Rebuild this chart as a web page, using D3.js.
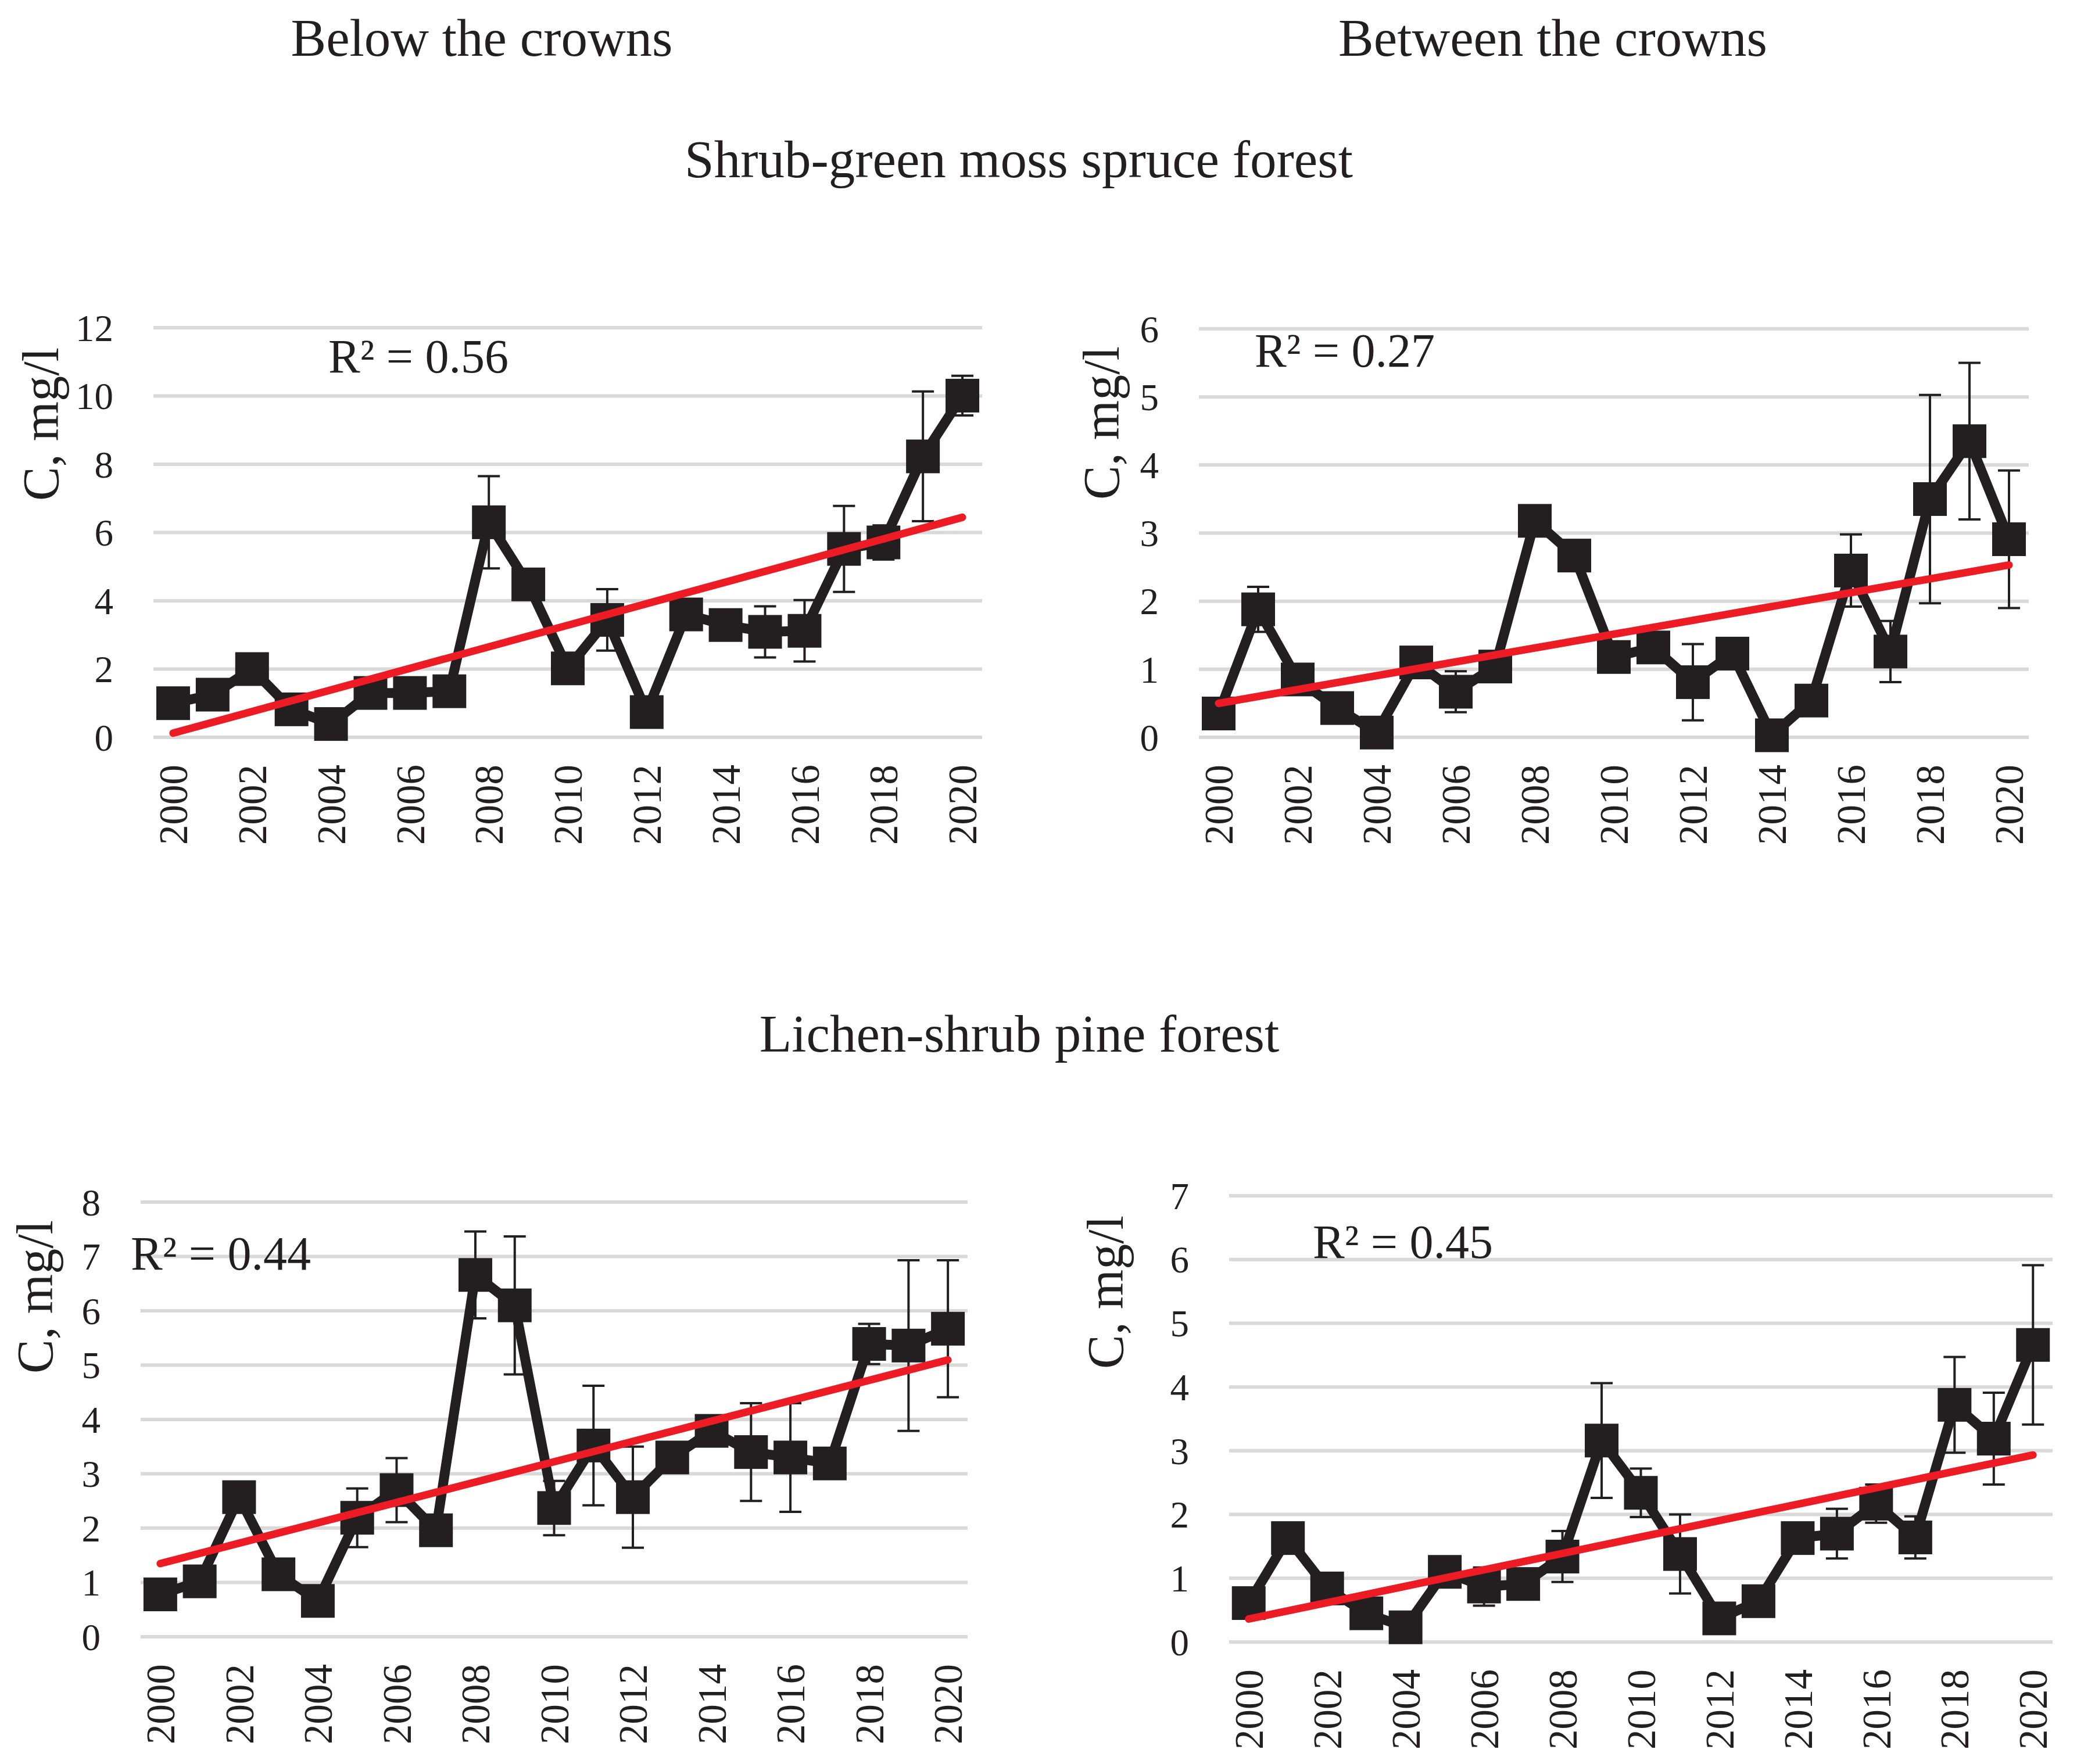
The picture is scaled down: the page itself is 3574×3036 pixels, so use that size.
<!DOCTYPE html>
<html><head><meta charset="utf-8">
<script src="https://cdn.jsdelivr.net/npm/d3@7"></script>
<style>
body{margin:0;background:#fff}
svg{display:block}
text{font-family:"Liberation Serif","DejaVu Serif",serif;fill:#231f20}
</style>
</head><body>
<svg id="c" width="3574" height="3036"></svg>
<script>
// ---------- DATA ----------
const years = [2000,2001,2002,2003,2004,2005,2006,2007,2008,2009,2010,2011,2012,2013,2014,2015,2016,2017,2018,2019,2020];
const yearTickLabels = [2000,2002,2004,2006,2008,2010,2012,2014,2016,2018,2020];

const columnTitles = ["Below the crowns", "Between the crowns"];
const rowTitles = ["Shrub-green moss spruce forest", "Lichen-shrub pine forest"];
const yAxisTitle = "C, mg/l";

// Shrub-green moss spruce forest, below the crowns
const spruceBelow    = [1.0,1.25,2.0,0.82,0.39,1.3,1.3,1.35,6.3,4.48,2.02,3.44,0.74,3.6,3.29,3.09,3.12,5.52,5.71,8.23,10.01];
const spruceBelowErr = [0,0,0,0,0,0,0,0,1.35,0,0,0.9,0,0,0,0.75,0.9,1.26,0.5,1.9,0.58];
// Shrub-green moss spruce forest, between the crowns
const spruceBetween    = [0.35,1.88,0.85,0.43,0.07,1.1,0.67,1.04,3.18,2.67,1.18,1.32,0.81,1.23,0.03,0.54,2.45,1.26,3.5,4.35,2.91];
const spruceBetweenErr = [0,0.33,0,0,0,0,0.3,0,0,0,0,0,0.56,0,0,0,0.53,0.45,1.53,1.15,1.01];
// Lichen-shrub pine forest, below the crowns
const pineBelow    = [0.78,1.02,2.57,1.15,0.66,2.19,2.7,1.96,6.66,6.1,2.37,3.52,2.57,3.3,3.79,3.4,3.3,3.19,5.39,5.36,5.67];
const pineBelowErr = [0,0,0,0,0,0.54,0.59,0,0.8,1.27,0.5,1.1,0.93,0,0,0.9,1.0,0,0.37,1.57,1.26];
// Lichen-shrub pine forest, between the crowns
const pineBetween    = [0.61,1.63,0.84,0.45,0.23,1.1,0.87,0.91,1.34,3.16,2.34,1.38,0.37,0.64,1.63,1.7,2.17,1.64,3.72,3.19,4.66];
const pineBetweenErr = [0,0,0,0,0,0,0.3,0,0.4,0.9,0.38,0.62,0,0,0,0.39,0.3,0.33,0.75,0.72,1.25];

const r2Labels = ["R\u00B2 = 0.56", "R\u00B2 = 0.27", "R\u00B2 = 0.44", "R\u00B2 = 0.45"];
const yMaxes = [12, 6, 8, 7];
const yTickSteps = [2, 1, 1, 1];

// ---------- LAYOUT ----------
const panels = [
  {vals: spruceBelow,   errs: spruceBelowErr,   r2: r2Labels[0], ymax: yMaxes[0], step: yTickSteps[0],
   x0: 264,  x1: 1690, yTop: 564,  yBot: 1269, titleX: 100,  titleY: 730,  r2x: 565,  r2y: 641},
  {vals: spruceBetween, errs: spruceBetweenErr, r2: r2Labels[1], ymax: yMaxes[1], step: yTickSteps[1],
   x0: 2063, x1: 3491, yTop: 566,  yBot: 1269, titleX: 1925, titleY: 728,  r2x: 2159, r2y: 631},
  {vals: pineBelow,     errs: pineBelowErr,     r2: r2Labels[2], ymax: yMaxes[2], step: yTickSteps[2],
   x0: 242,  x1: 1665, yTop: 2069, yBot: 2817, titleX: 90,   titleY: 2232, r2x: 225,  r2y: 2185},
  {vals: pineBetween,   errs: pineBetweenErr,   r2: r2Labels[3], ymax: yMaxes[3], step: yTickSteps[3],
   x0: 2115, x1: 3532, yTop: 2058, yBot: 2826, titleX: 1932, titleY: 2224, r2x: 2259, r2y: 2165}
];

const INK = "#231f20", RED = "#ed1c24", GRID = "#d9d9d9";
const svg = d3.select("#c");

// titles
svg.append("text").attr("x", 829).attr("y", 96).attr("text-anchor","middle").attr("font-size", 91).text(columnTitles[0]);
svg.append("text").attr("x", 2672).attr("y", 96).attr("text-anchor","middle").attr("font-size", 91).text(columnTitles[1]);
svg.append("text").attr("x", 1753).attr("y", 305).attr("text-anchor","middle").attr("font-size", 91).text(rowTitles[0]);
svg.append("text").attr("x", 1754).attr("y", 1810).attr("text-anchor","middle").attr("font-size", 91).text(rowTitles[1]);

function linreg(xs, ys) {
  const n = xs.length, mx = d3.mean(xs), my = d3.mean(ys);
  let sxy = 0, sxx = 0;
  for (let i = 0; i < n; i++) { sxy += (xs[i]-mx)*(ys[i]-my); sxx += (xs[i]-mx)*(xs[i]-mx); }
  const b = sxy / sxx; return {a: my - b*mx, b};
}

panels.forEach(p => {
  const g = svg.append("g");
  const x = d3.scalePoint().domain(years).range([p.x0, p.x1]).padding(0.5);
  const y = d3.scaleLinear().domain([0, p.ymax]).range([p.yBot, p.yTop]);
  const ticks = d3.range(0, p.ymax + p.step/2, p.step);

  // gridlines
  g.append("g").selectAll("line").data(ticks).join("line")
    .attr("x1", p.x0).attr("x2", p.x1).attr("y1", d => y(d)).attr("y2", d => y(d))
    .attr("stroke", GRID).attr("stroke-width", 6);

  // y tick labels
  g.append("g").selectAll("text").data(ticks).join("text")
    .attr("x", p.x0 - 69).attr("y", d => y(d)).attr("dy", "0.35em")
    .attr("text-anchor", "end").attr("font-size", 65).text(d => d);

  // x tick labels
  g.append("g").selectAll("text").data(yearTickLabels).join("text")
    .attr("transform", d => `translate(${x(d)},${p.yBot + 47}) rotate(-90)`)
    .attr("dy", "0.35em").attr("text-anchor", "end").attr("font-size", 69).text(d => d);

  // y title
  g.append("text").attr("transform", `translate(${p.titleX},${p.titleY}) rotate(-90)`)
    .attr("text-anchor", "middle").attr("font-size", 88).text(yAxisTitle);

  const pts = years.map((yr, i) => ({yr, v: p.vals[i], e: p.errs[i]}));

  // error bars
  const eb = g.append("g").attr("stroke", INK).attr("stroke-width", 4);
  pts.filter(d => d.e > 0).forEach(d => {
    const cx = x(d.yr), t = y(d.v + d.e), b = y(d.v - d.e);
    eb.append("line").attr("x1", cx).attr("x2", cx).attr("y1", t).attr("y2", b);
    eb.append("line").attr("x1", cx-19).attr("x2", cx+19).attr("y1", t).attr("y2", t);
    eb.append("line").attr("x1", cx-19).attr("x2", cx+19).attr("y1", b).attr("y2", b);
  });

  // data line
  g.append("path").datum(pts)
    .attr("d", d3.line().x(d => x(d.yr)).y(d => y(d.v)))
    .attr("fill", "none").attr("stroke", INK).attr("stroke-width", 17).attr("stroke-linejoin", "round");

  // square markers
  const S = 58;
  g.append("g").selectAll("rect").data(pts).join("rect")
    .attr("x", d => x(d.yr) - S/2).attr("y", d => y(d.v) - S/2)
    .attr("width", S).attr("height", S).attr("fill", INK);

  // linear trend
  const idx = years.map((_, i) => i);
  const lr = linreg(idx, p.vals);
  const trend = [{yr: years[0], v: lr.a}, {yr: years[years.length-1], v: lr.a + lr.b*(years.length-1)}];
  g.append("path").datum(trend)
    .attr("d", d3.line().x(d => x(d.yr)).y(d => y(d.v)))
    .attr("stroke", RED).attr("stroke-width", 13).attr("stroke-linecap", "round").attr("fill", "none");

  // R² label
  g.append("text").attr("x", p.r2x).attr("y", p.r2y).attr("font-size", 82).text(p.r2);
});
</script>
</body></html>
